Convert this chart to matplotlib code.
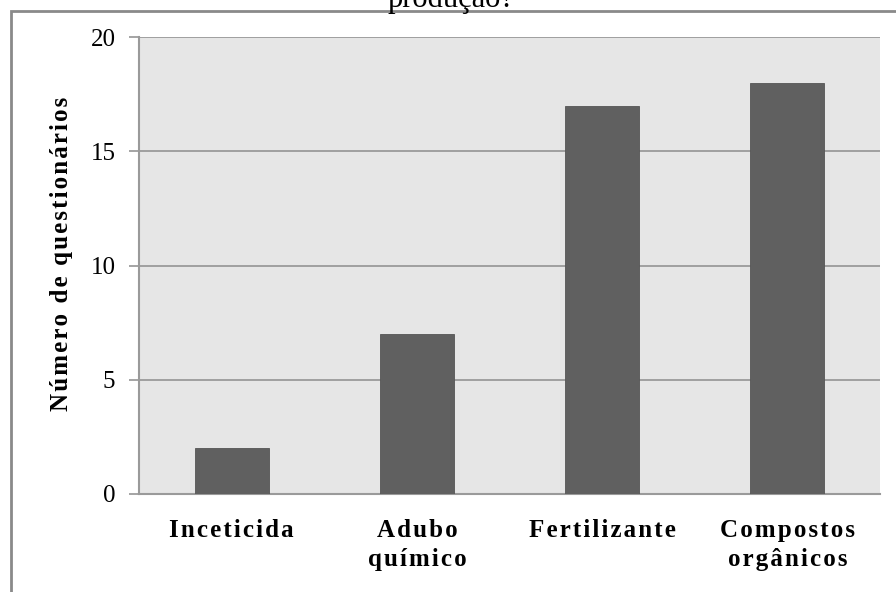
import matplotlib
matplotlib.use("Agg")
import matplotlib.pyplot as plt
from matplotlib.patches import Rectangle

categories = ["Inceticida", "Adubo\nquímico", "Fertilizante", "Compostos\norgânicos"]
values = [2, 7, 17, 18]
yticks = [0, 5, 10, 15, 20]
ylabel = "Número de questionários"
title = "produção?"

def spaced(s, sep="\u200a"):
    return "\n".join(sep.join(list(line)) for line in s.split("\n"))

plt.rcParams['font.family'] = ['Liberation Serif', 'DejaVu Serif']

W, H = 896, 592
fig = plt.figure(figsize=(W / 100, H / 100), dpi=100)
fig.patch.set_facecolor("white")

# outer chart border (left and top visible)
fig.add_artist(Rectangle((11 / W, -0.1), 1.2, (H - 11) / H + 0.1, transform=fig.transFigure,
                         fill=False, edgecolor="#8a8a8a", linewidth=2))
fig.text(451 / W, 1 - 7 / H, title, ha="center", va="baseline", fontsize=22, color="black")

ax = fig.add_axes([139 / W, (H - 494) / H, 741 / W, 457 / H])
ax.set_facecolor("#e6e6e6")
x = range(len(categories))
ax.bar(x, values, width=0.4, color="#606060", edgecolor="#555555", linewidth=0.6, zorder=3)
ax.set_xlim(-0.5, len(categories) - 0.5)
ax.set_ylim(0, 20)
ax.set_yticks(yticks)
ax.set_yticklabels([str(t) for t in yticks], fontsize=18)
ax.yaxis.grid(True, color="#8c8c8c", linewidth=1.1, zorder=0)
ax.set_axisbelow(True)
ax.tick_params(axis="y", length=7, width=1.1, color="#8c8c8c", pad=10)
ax.tick_params(axis="x", length=0, pad=18)
ax.set_xticks(list(x))
ax.set_xticklabels([spaced(c) for c in categories], fontsize=18, fontweight="bold",
                   linespacing=1.35, va="top")
for side in ["top", "right"]:
    ax.spines[side].set_visible(False)
ax.spines["left"].set_color("#9a9a9a")
ax.spines["left"].set_linewidth(1.5)
ax.spines["bottom"].set_color("#9a9a9a")
ax.spines["bottom"].set_linewidth(1.5)
ax.set_ylabel(spaced(ylabel), fontsize=18, fontweight="bold")
ax.yaxis.set_label_coords(-66 / 741, 0.525)

fig.savefig("out.png", dpi=100)
